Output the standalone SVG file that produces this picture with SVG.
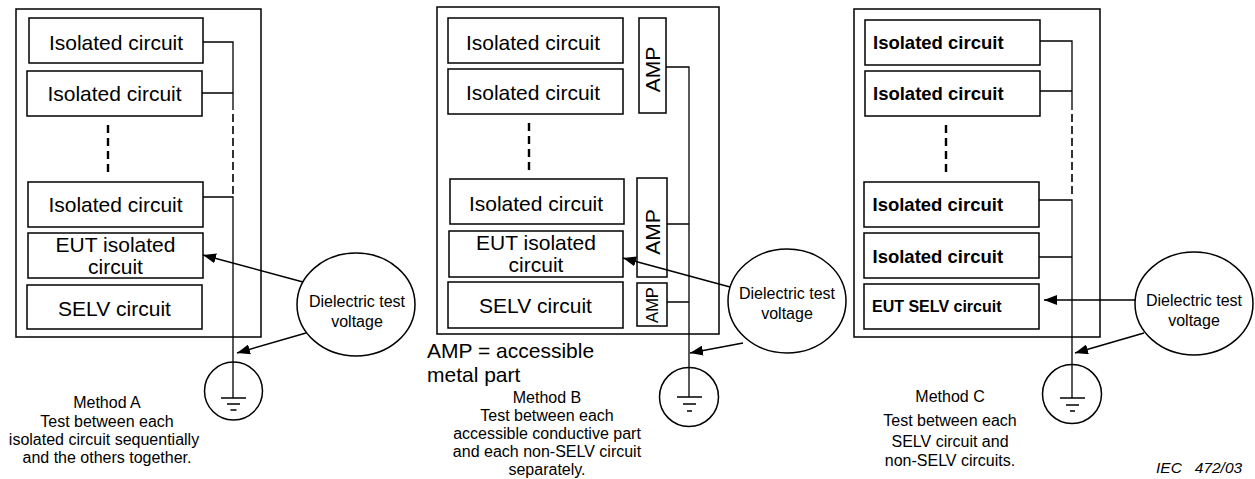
<svg xmlns="http://www.w3.org/2000/svg" width="1255" height="479" viewBox="0 0 1255 479">
<style>
.box{fill:#fff;stroke:#000;stroke-width:1.5}
.frame{fill:none;stroke:#000;stroke-width:1.5}
.w{fill:none;stroke:#000;stroke-width:1.3}
.wd{fill:none;stroke:#000;stroke-width:1.6;stroke-dasharray:8 4}
.bd{fill:none;stroke:#000;stroke-width:2.4;stroke-dasharray:8 5}
.arr{fill:none;stroke:#000;stroke-width:1.5;marker-end:url(#ah)}
text{font-family:"Liberation Sans",Arial,sans-serif;fill:#000}
.t21{font-size:21px;text-anchor:middle}
.t16{font-size:16px;text-anchor:middle}
.b18{font-size:18.5px;font-weight:bold}
.b16{font-size:16px;font-weight:bold}
.amp{font-size:21px;text-anchor:middle}
.amps{font-size:16.5px;text-anchor:middle}
.big{font-size:21px}
.iec{font-size:15.5px;font-style:italic;white-space:pre}
</style>
<defs>
<marker id="ah" markerUnits="userSpaceOnUse" viewBox="0 0 13 10" markerWidth="13" markerHeight="10" refX="13" refY="5" orient="auto">
<path d="M0,0 L13,5 L0,10 z" fill="#000"/>
</marker>
</defs>

<!-- Panel A -->
<rect id="frameA" class="frame" x="16" y="9" width="245" height="328"/>
<g id="a-iso1"><rect class="box" x="29" y="18" width="174" height="45"/><text class="t21" x="116" y="50">Isolated circuit</text></g>
<g id="a-iso2"><rect class="box" x="27" y="71" width="175" height="45"/><text class="t21" x="114.5" y="101">Isolated circuit</text></g>
<g id="a-iso3"><rect class="box" x="28" y="182" width="175" height="45"/><text class="t21" x="115.5" y="212">Isolated circuit</text></g>
<g id="a-eut"><rect class="box" x="28" y="233" width="175" height="45"/><text class="t21" x="115.5" y="252">EUT isolated</text><text class="t21" x="115.5" y="274">circuit</text></g>
<g id="a-selv"><rect class="box" x="27" y="285" width="175" height="44"/><text class="t21" x="114.5" y="316">SELV circuit</text></g>
<g id="a-ground"><circle class="box" cx="233.5" cy="391" r="29"/><path class="w" d="M221,398 H246 M227,404 H240 M230.5,410 H236.5"/></g>
<g id="a-dtv"><ellipse class="box" cx="356" cy="304.5" rx="59" ry="51.5"/><text class="t16" x="357" y="307">Dielectric test</text><text class="t16" x="357" y="327">voltage</text></g>
<text class="t16" x="107" y="408">Method A</text>
<text class="t16" x="107" y="426.5">Test between each</text>
<text class="t16" x="104" y="445">isolated circuit sequentially</text>
<text class="t16" x="107" y="463">and the others together.</text>

<!-- Panel B -->
<rect id="frameB" class="frame" x="437" y="7" width="282" height="327"/>
<g id="b-iso1"><rect class="box" x="448" y="18" width="175" height="45"/><text class="t21" x="533" y="50">Isolated circuit</text></g>
<g id="b-iso2"><rect class="box" x="448" y="69" width="175" height="45"/><text class="t21" x="533" y="100">Isolated circuit</text></g>
<g id="b-iso3"><rect class="box" x="450" y="179" width="174" height="45"/><text class="t21" x="536" y="211">Isolated circuit</text></g>
<g id="b-eut"><rect class="box" x="449" y="231" width="174" height="46"/><text class="t21" x="536" y="250">EUT isolated</text><text class="t21" x="536" y="272">circuit</text></g>
<g id="b-selv"><rect class="box" x="448" y="282" width="175" height="46"/><text class="t21" x="535.5" y="313">SELV circuit</text></g>
<g id="b-amp1"><rect class="box" x="639" y="18" width="27" height="95"/><text class="amp" transform="translate(660,69.5) rotate(-90)">AMP</text></g>
<g id="b-amp2"><rect class="box" x="637" y="178" width="30" height="99"/><text class="amp" transform="translate(660,232) rotate(-90)">AMP</text></g>
<g id="b-amp3"><rect class="box" x="637" y="283" width="30" height="43"/><text class="amps" transform="translate(658,305) rotate(-90)">AMP</text></g>
<g id="b-ground"><circle class="box" cx="689" cy="397" r="29.5"/><path class="w" d="M677,397 H702 M683,404 H696 M687,411 H692"/></g>
<g id="b-dtv"><ellipse class="box" cx="787" cy="301" rx="59" ry="52"/><text class="t16" x="787" y="299">Dielectric test</text><text class="t16" x="787" y="319">voltage</text></g>
<text class="big" x="427" y="358">AMP = accessible</text>
<text class="big" x="427" y="382">metal part</text>
<text class="t16" x="547" y="403">Method B</text>
<text class="t16" x="547" y="421">Test between each</text>
<text class="t16" x="547" y="439">accessible conductive part</text>
<text class="t16" x="547" y="457">and each non-SELV circuit</text>
<text class="t16" x="547" y="475">separately.</text>

<!-- Panel C -->
<rect id="frameC" class="frame" x="854" y="9" width="246" height="328"/>
<g id="c-iso1"><rect class="box" x="865" y="20" width="175" height="45"/><text class="b18" x="873" y="49">Isolated circuit</text></g>
<g id="c-iso2"><rect class="box" x="865" y="71" width="175" height="45"/><text class="b18" x="873" y="100">Isolated circuit</text></g>
<g id="c-iso3"><rect class="box" x="864" y="182" width="175" height="45"/><text class="b18" x="872.5" y="211">Isolated circuit</text></g>
<g id="c-iso4"><rect class="box" x="864" y="233" width="175" height="45"/><text class="b18" x="872.5" y="263">Isolated circuit</text></g>
<g id="c-eutselv"><rect class="box" x="864" y="284" width="175" height="45"/><text class="b16" x="872" y="312">EUT SELV circuit</text></g>
<g id="c-ground"><circle class="box" cx="1072" cy="394" r="29.5"/><path class="w" d="M1060,398 H1085 M1066,405 H1079 M1070,411 H1075"/></g>
<g id="c-dtv"><ellipse class="box" cx="1194" cy="303.5" rx="59" ry="51.5"/><text class="t16" x="1194" y="306">Dielectric test</text><text class="t16" x="1194" y="326">voltage</text></g>
<text class="t16" x="950" y="402">Method C</text>
<text class="t16" x="950" y="426">Test between each</text>
<text class="t16" x="950" y="447">SELV circuit and</text>
<text class="t16" x="950" y="466">non-SELV circuits.</text>
<text class="iec" x="1156" y="473">IEC   472/03</text>

<!-- Connectors -->
<g id="connectors">
<line class="bd" x1="108" y1="125" x2="108" y2="173"/>
<path class="w" d="M203,42 H233 V110 M202,93 H233 M203,197 H233 V398"/>
<line class="wd" x1="233" y1="114" x2="233" y2="195"/>
<path class="arr" d="M303,282 L203,255"/>
<path class="arr" d="M306,333 L237,353"/>

<line class="bd" x1="529" y1="123" x2="529" y2="170"/>
<path class="w" d="M666,67 H689 V397 M667,224 H689 M667,302 H689"/>
<path class="arr" d="M730,287 L623,258"/>
<path class="arr" d="M743,343 L690,353"/>

<line class="bd" x1="946" y1="125" x2="946" y2="172"/>
<path class="w" d="M1040,41 H1072 V110 M1040,91 H1072 M1039,200 H1072 V398 M1039,257 H1072"/>
<line class="wd" x1="1072" y1="114" x2="1072" y2="195"/>
<path class="arr" d="M1135,300 L1044,300"/>
<path class="arr" d="M1144,333 L1075,353"/>
</g>
</svg>
